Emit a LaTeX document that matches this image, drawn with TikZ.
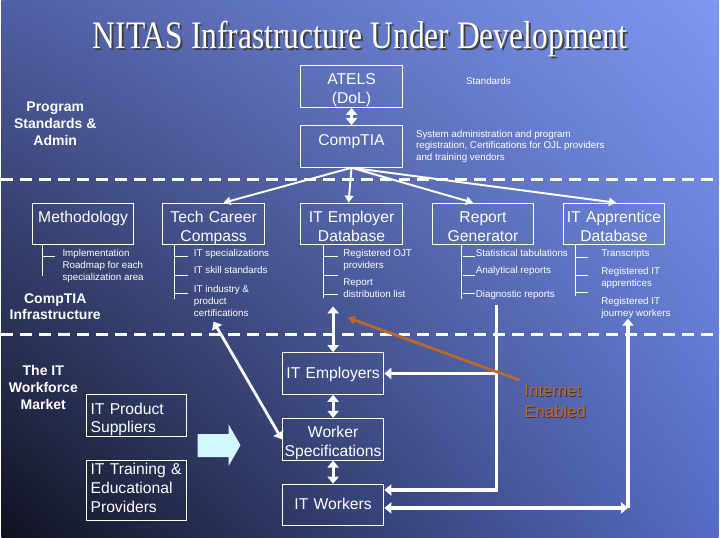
\documentclass[tikz,border=0pt]{standalone}
\usepackage{fontspec}
\setmainfont{Liberation Serif}
\setsansfont{Liberation Sans}
\usetikzlibrary{calc,arrows.meta,shadings}

\definecolor{bgul}{RGB}{80,95,165}
\definecolor{bgur}{RGB}{126,152,240}
\definecolor{bgll}{RGB}{16,18,32}
\definecolor{bglr}{RGB}{86,108,196}
\definecolor{netorange}{RGB}{186,106,40}
\definecolor{netshadow}{RGB}{60,45,50}
\definecolor{arrowcyan}{RGB}{208,250,255}

\begin{document}
\begin{tikzpicture}[x=0.025cm, y=-0.025cm,
  box/.style={draw=white, line width=0.7pt, text=white, font=\sffamily\fontsize{11.2}{13.5}\selectfont,
    align=center, text width=2.48cm, inner sep=1pt, text height=13pt, text depth=14.8pt},
  onebox/.style={box, text height=17.4pt, text depth=10.3pt},
  item/.style={text=white, font=\sffamily\fontsize{7}{8.5}\selectfont, align=left, inner sep=0pt, anchor=north west},
  side/.style={text=white, font=\sffamily\bfseries\fontsize{10}{12}\selectfont, align=center},
  tree/.style={white, line width=0.7pt},
  link/.style={white, line width=1.4pt, -{Triangle[length=5pt,width=6pt]}},
  fat/.style={white, line width=2.3pt, >={Triangle[length=5pt,width=8pt]}},
  sep/.style={white, line width=2.1pt, dash pattern=on 8.5pt off 5pt}]

\shade[upper left=bgul, upper right=bgur, lower left=bgll, lower right=bglr] (0,0) rectangle (720,540);

% title
\node[text=black!75, font=\fontsize{27.8}{30}\selectfont, xscale=0.81] at (362,41) {NITAS Infrastructure Under Development};
\node[text=white, font=\fontsize{27.8}{30}\selectfont, xscale=0.81] (title) at (360,39) {NITAS Infrastructure Under Development};

% program standards
\node[box, text height=12.5pt, text depth=15.2pt] (atels) at (351.5,87) {ATELS\\(DoL)};
\node[box] (comptia) at (351.5,147) {CompTIA};
\node[text=white, font=\sffamily\fontsize{7}{8.5}\selectfont] (stdnote) at (489,81) {Standards};
\node[item, anchor=west] (sysnote) at (416,147) {System administration and program\\registration, Certifications for OJL providers\\and training vendors};
\node[side] (progstd) at (54,124) {Program\\Standards \&\\Admin};
\draw[fat, <->] (atels.south) -- (comptia.north);

\draw[sep] (0,180) -- (720,180);
\draw[sep] (0,336) -- (720,336);

% CompTIA infrastructure
\node[box] (meth) at (82,225) {Methodology};
\node[box] (tcc) at (213,225) {Tech Career\\Compass};
\node[box] (ied) at (351.5,225) {IT Employer\\Database};
\node[box] (rg) at (483.5,225) {Report\\Generator};
\node[box] (iad) at (615,225) {IT Apprentice\\Database};
\node[side] (infra) at (54,308) {CompTIA\\Infrastructure};

\foreach \t/\dx in {tcc/10, ied/-3, rg/-10, iad/2}
  \draw[link] (comptia.south) -- ($(\t.north)+(\dx,0)$);

\draw[tree] ($(meth.south west)+(11,0)$) -- ++(0,31) (42,258) -- ++(12,0);
\node[item] (meth1) at (61,250) {Implementation\\Roadmap for each\\specialization area};

\draw[tree] ($(tcc.south west)+(12,0)$) -- ++(0,54);
\foreach \y in {258,277,295} \draw[tree] (174,\y) -- ++(13,0);
\node[item] (tcc1) at (193,250) {IT specializations};
\node[item] (tcc2) at (193,267) {IT skill standards};
\node[item] (tcc3) at (193,286) {IT industry \&\\product\\certifications};

\draw[tree] ($(ied.south west)+(23,0)$) -- ++(0,53);
\foreach \y in {258,277,296} \draw[tree] (324,\y) -- ++(14,0);
\node[item] (ied1) at (343,250) {Registered OJT\\providers};
\node[item] (ied2) at (343,280) {Report\\distribution list};

\draw[tree] ($(rg.south west)+(30,0)$) -- ++(0,54);
\foreach \y in {258,277,295} \draw[tree] (463,\y) -- ++(12,0);
\node[item] (rg1) at (476,250) {Statistical tabulations};
\node[item] (rg2) at (476,267) {Analytical reports};
\node[item] (rg3) at (476,291) {Diagnostic reports};

\draw[tree] ($(iad.south west)+(13,0)$) -- ++(0,51);
\foreach \y in {259,277,294} \draw[tree] (577,\y) -- ++(12,0);
\node[item] (iad1) at (602,250) {Transcripts};
\node[item] (iad2) at (602,268) {Registered IT\\apprentices};
\node[item] (iad3) at (602,298) {Registered IT\\journey workers};

% IT workforce market
\node[side] (market) at (42,389) {The IT\\Workforce\\Market};
\node[box, align=left, inner xsep=3pt, text width=2.3cm] (ips) at (135.5,417) {IT Product\\Suppliers};
\node[box, align=left, inner xsep=3pt, text width=2.3cm, text height=9.3pt, text depth=31.9pt] (itep) at (135.5,492.5) {IT Training \&\\Educational\\Providers};
\fill[arrowcyan] (197,436) -- (228,436) -- (228,426) -- (240,447) -- (228,468) -- (228,459) -- (197,459) -- cycle;

\node[onebox] (iemp) at (333,375) {IT Employers};
\node[box] (wspec) at (333,441) {Worker\\Specifications};
\node[onebox] (itw) at (333,507) {IT Workers};

\draw[fat, <->] (iemp.south) -- (wspec.north);
\draw[fat, <->] (wspec.south) -- (itw.north);
\draw[fat, <->] (iemp.north) -- ++(0,-46);

\coordinate (tccfoot) at (213,323);
\draw[fat, <->, line width=2pt] (tccfoot) -- (wspec.west);

\coordinate (rgfoot) at (497,306);
\draw[fat, ->] (rgfoot) |- ($(itw.east)+(0,-15)$);
\draw[fat, ->] (rgfoot |- iemp.east) -- (iemp.east);

\coordinate (iadfoot) at (629,320);
\coordinate (iadcorner) at (629,510);
\draw[fat, ->] (iadcorner) -- (iadfoot);
\draw[fat, <->] (itw.east |- iadcorner) -- (iadcorner);

\node[text=netshadow, font=\sffamily\fontsize{12}{15}\selectfont, align=left] at (556.8,403.8) {Internet\\Enabled};
\node[text=netorange, font=\sffamily\fontsize{12}{15}\selectfont, align=left] (inet) at (556,403) {Internet\\Enabled};
\coordinate (inettip) at (348,319);
\draw[netorange, line width=2pt, -{Triangle[length=5pt,width=6pt]}] (inet.north west) -- (inettip);

\end{tikzpicture}
\end{document}
